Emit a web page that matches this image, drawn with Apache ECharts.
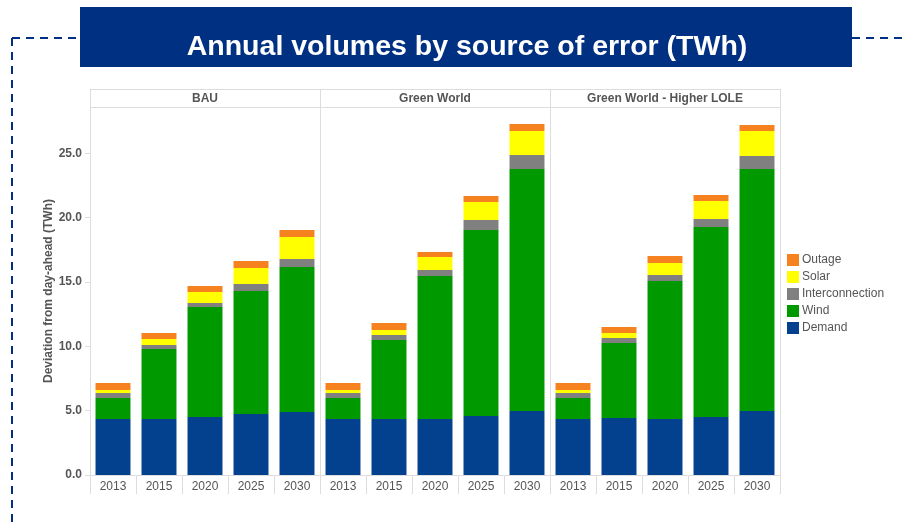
<!DOCTYPE html>
<html>
<head>
<meta charset="utf-8">
<script src="https://cdn.jsdelivr.net/npm/echarts@6/dist/echarts.min.js"></script>
<style>
  html, body { margin: 0; padding: 0; background: #fff; }
  #chart { width: 907px; height: 526px; }
</style>
</head>
<body>
<div id="chart"></div>
<script>
// data (TWh)
var years = ['2013', '2015', '2020', '2025', '2030']
var scenarios = ['BAU', 'Green World', 'Green World - Higher LOLE']
var legendOrder = ['Outage', 'Solar', 'Interconnection', 'Wind', 'Demand']

// one row per scenario, one value per year
var demand = [
  [4.35, 4.35, 4.51, 4.74, 4.90],
  [4.35, 4.35, 4.35, 4.58, 4.97],
  [4.35, 4.43, 4.35, 4.51, 4.97]
]
var wind = [
  [1.63, 5.44, 8.54, 9.56, 11.26],
  [1.63, 6.14, 11.11, 14.46, 18.81],
  [1.63, 5.83, 10.72, 14.76, 18.81]
]
var interconnection = [
  [0.39, 0.31, 0.31, 0.54, 0.62],
  [0.39, 0.39, 0.47, 0.77, 1.08],
  [0.39, 0.38, 0.47, 0.62, 1.01]
]
var solar = [
  [0.23, 0.47, 0.86, 1.24, 1.71],
  [0.23, 0.39, 1.01, 1.40, 1.87],
  [0.23, 0.39, 0.93, 1.40, 1.94]
]
var outage = [
  [0.55, 0.46, 0.47, 0.55, 0.55],
  [0.55, 0.54, 0.39, 0.47, 0.54],
  [0.55, 0.47, 0.55, 0.47, 0.47]
]

var sources = [
  { name: 'Demand', data: demand, color: '#03418f' },
  { name: 'Wind', data: wind, color: '#009a00' },
  { name: 'Interconnection', data: interconnection, color: '#808080' },
  { name: 'Solar', data: solar, color: '#ffff00' },
  { name: 'Outage', data: outage, color: '#f5821f' }
]

var chart = echarts.init(document.getElementById('chart'))

var plotLeft = 90
var panelW = 230
var plotTop = 107
var plotBottom = 475
var grey = '#555'
var lineCol = '#dddddd'

var grids = []
var xAxes = []
var yAxes = []
var series = []
var graphics = []

scenarios.forEach(function(sc, i) {
  grids.push({ left: plotLeft + panelW * i, width: panelW, top: plotTop, bottom: 526 - plotBottom })
  xAxes.push({
    type: 'category',
    gridIndex: i,
    data: years,
    axisLine: { lineStyle: { color: lineCol } },
    axisTick: { show: true, length: 19, lineStyle: { color: lineCol } },
    axisLabel: { color: grey, fontSize: 12, fontFamily: 'Liberation Sans, Arial', margin: 6 }
  })
  yAxes.push({
    type: 'value',
    gridIndex: i,
    min: 0,
    max: 28.6,
    interval: 5,
    splitLine: { show: false },
    axisLine: { show: false },
    axisTick: { show: i === 0, length: 5, lineStyle: { color: lineCol } },
    axisLabel: {
      show: i === 0,
      color: grey,
      fontSize: 12,
      fontWeight: 'bold',
      fontFamily: 'Liberation Sans, Arial',
      margin: 8,
      showMaxLabel: false,
      formatter: function(v) { return v.toFixed(1) }
    },
    name: i === 0 ? 'Deviation from day-ahead (TWh)' : '',
    nameLocation: 'middle',
    nameGap: 34,
    nameTextStyle: { color: grey, fontSize: 12, fontWeight: 'bold', fontFamily: 'Liberation Sans, Arial' }
  })
  sources.forEach(function(s) {
    series.push({
      name: s.name,
      type: 'bar',
      stack: 'p' + i,
      xAxisIndex: i,
      yAxisIndex: i,
      barCategoryGap: '24%',
      itemStyle: { color: s.color },
      data: s.data[i]
    })
  })
  // panel header text
  graphics.push({
    type: 'text',
    x: plotLeft + panelW * i + panelW / 2,
    y: 98.5,
    silent: true,
    style: {
      text: sc,
      align: 'center',
      verticalAlign: 'middle',
      fill: grey,
      font: 'bold 12px "Liberation Sans", Arial'
    }
  })
})

// header frame and panel separators
graphics.push(
  { type: 'line', shape: { x1: plotLeft, y1: 89.5, x2: plotLeft + panelW * 3, y2: 89.5 }, style: { stroke: lineCol, lineWidth: 1 } },
  { type: 'line', shape: { x1: plotLeft, y1: plotTop + 0.5, x2: plotLeft + panelW * 3, y2: plotTop + 0.5 }, style: { stroke: lineCol, lineWidth: 1 } }
)
for (var k = 0; k <= 3; k++) {
  var xx = plotLeft + panelW * k + 0.5
  graphics.push({ type: 'line', shape: { x1: xx, y1: 89, x2: xx, y2: 494 }, style: { stroke: lineCol, lineWidth: 1 } })
}

// dashed frame and title box
graphics.push(
  { type: 'line', shape: { x1: 12, y1: 38, x2: 80, y2: 38 }, style: { stroke: '#003082', lineWidth: 2, lineDash: [8, 6] } },
  { type: 'line', shape: { x1: 852, y1: 38, x2: 907, y2: 38 }, style: { stroke: '#003082', lineWidth: 2, lineDash: [8, 6] } },
  { type: 'line', shape: { x1: 12, y1: 38, x2: 12, y2: 526 }, style: { stroke: '#003082', lineWidth: 2, lineDash: [8, 6] } },
  { type: 'rect', shape: { x: 80, y: 7, width: 772, height: 60 }, style: { fill: '#003082' } },
  {
    type: 'text',
    x: 467,
    y: 47,
    style: {
      text: 'Annual volumes by source of error (TWh)',
      fill: '#fff',
      align: 'center',
      verticalAlign: 'middle',
      font: 'bold 28.5px "Liberation Sans", Arial'
    }
  }
)

chart.setOption({
  animation: false,
  backgroundColor: '#fff',
  grid: grids,
  xAxis: xAxes,
  yAxis: yAxes,
  legend: {
    data: legendOrder,
    orient: 'vertical',
    left: 782,
    top: 249,
    icon: 'rect',
    itemWidth: 12,
    itemHeight: 12,
    itemGap: 5,
    textStyle: { color: grey, fontSize: 12, fontFamily: 'Liberation Sans, Arial', padding: [0, 0, 0, -2] }
  },
  graphic: graphics,
  series: series
})
</script>
</body>
</html>
